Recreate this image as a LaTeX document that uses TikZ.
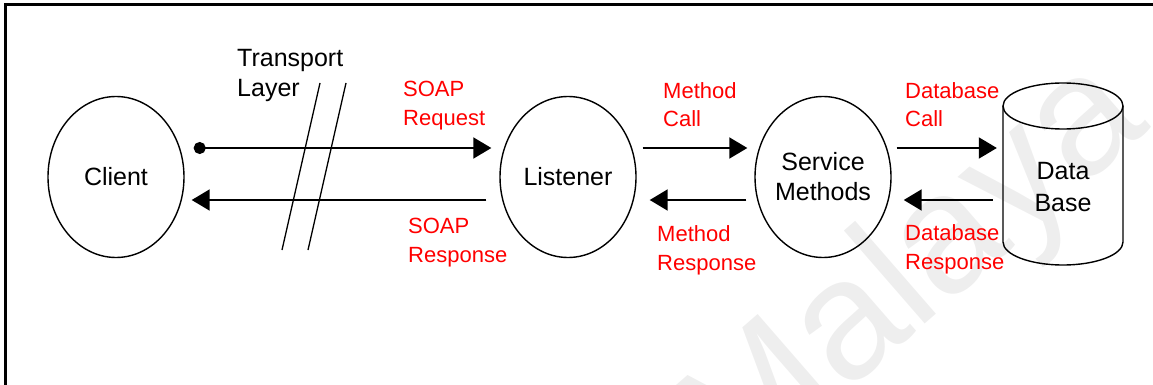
\documentclass[tikz,border=0pt]{standalone}
\usepackage{fontspec}
\setmainfont{Liberation Sans}
\usetikzlibrary{arrows.meta,shapes.geometric}

\definecolor{labelred}{RGB}{255,0,0}
\definecolor{wmark}{RGB}{238,238,238}

\tikzset{
  proc/.style={ellipse, draw, line width=1.4pt, minimum width=136pt,
    minimum height=161pt, inner sep=0pt, font=\fontsize{25}{30}\selectfont, align=center},
  msg/.style={line width=2pt, -{Triangle[length=18pt,width=21pt]}},
  firstmsg/.style={line width=2pt, {Circle[length=12pt]}-{Triangle[length=18pt,width=21pt]}},
  lbl/.style={text=labelred, font=\fontsize{22}{28.5}\selectfont, align=left,
    inner sep=0pt, anchor=base west},
  tlabel/.style={font=\fontsize{25}{30}\selectfont, align=left, inner sep=0pt, anchor=base west},
  wire/.style={line width=1.3pt},
  frame/.style={line width=3pt},
}

\begin{document}
\begin{tikzpicture}[x=1pt, y=-1pt]
\useasboundingbox (0,0) rectangle (1153,385);

% faint background watermark
\node[text=wmark, font=\fontsize{170}{170}\selectfont, rotate=41, inner sep=0pt,
  anchor=base west] (wm) at (738,487) {Malaya};

% frame edges
\draw[frame] (5,385) -- (5,5) -- (1153,5);

% processes
\node[proc] (client)   at (116,177) {Client};
\node[proc] (listener) at (568,177) {Listener};
\node[proc] (svc)      at (823,177) {Service\\Methods};

% database cylinder
\node[minimum width=120pt, inner sep=0pt,
  font=\fontsize{25}{32}\selectfont, align=center] (db) at (1063,187) {Data\\Base};
\draw[line width=1.4pt] (1063,106) ellipse [x radius=60, y radius=23];
\draw[line width=1.4pt] (1003,106) -- (1003,242)
  arc[start angle=180, end angle=360, x radius=60, y radius=-23] -- (1123,106);

% transport layer
\node[tlabel] (tl) at (237,97) {Transport\\Layer};
\coordinate (t1a) at (320,83);  \coordinate (t1b) at (282,250);
\coordinate (t2a) at (346,83);  \coordinate (t2b) at (308,250);
\draw[wire] (t1a) -- (t1b);
\draw[wire] (t2a) -- (t2b);

% messages
\draw[firstmsg] ([shift={(9,-29)}]client.east) -- ([shift={(-8,-29)}]listener.west);
\draw[msg] ([shift={(-13,23)}]listener.west) -- ([shift={(7,23)}]client.east);
\draw[msg] ([shift={(6,-29)}]listener.east) -- ([shift={(-7,-29)}]svc.west);
\draw[msg] ([shift={(-8,23)}]svc.west) -- ([shift={(13,23)}]listener.east);
\draw[msg] ([shift={(5,-29)}]svc.east) -- ([shift={(-6,-39)}]db.west);
\draw[msg] ([shift={(-10,13)}]db.west) -- ([shift={(12,23)}]svc.east);

% message labels
\node[lbl] (reqlbl)   at (403,125) {SOAP\\Request};
\node[lbl] (resplbl)  at (408,262) {SOAP\\Response};
\node[lbl] (mcall)    at (663,127) {Method\\Call};
\node[lbl] (mresp)    at (657,270) {Method\\Response};
\node[lbl] (dbcall)   at (905,127) {Database\\Call};
\node[lbl] (dbresp)   at (905,269) {Database\\Response};
\end{tikzpicture}
\end{document}
